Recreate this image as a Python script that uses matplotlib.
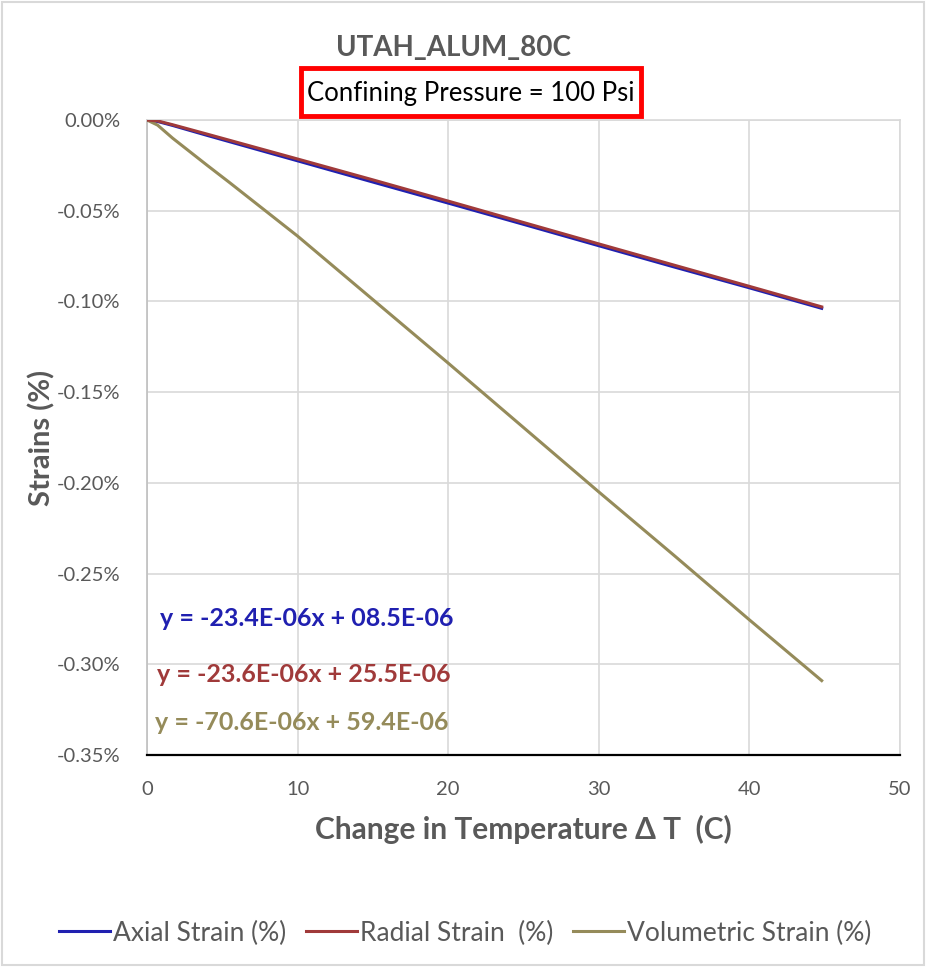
import numpy as np
import matplotlib.pyplot as plt
from matplotlib.patches import Rectangle
from matplotlib.ticker import FuncFormatter, MultipleLocator

plt.rcParams['font.family'] = ['Lato', 'DejaVu Sans']

# Temperature change (C) and measured strains (%)
axial_dt = [0, 0.7, 1.7, 4, 10, 15, 20, 25, 30, 35, 40, 44.8]
axial_strain = [0, -0.0008, -0.0030, -0.0085, -0.0225, -0.0342, -0.0458, -0.0575, -0.0693, -0.0810, -0.0925, -0.1038]

radial_dt = [0, 0.7, 1.7, 4, 10, 15, 20, 25, 30, 35, 40, 44.8]
radial_strain = [0, -0.0005, -0.0026, -0.0078, -0.0215, -0.0330, -0.0447, -0.0565, -0.0683, -0.0800, -0.0917, -0.1030]

vol_dt = [0, 0.7, 1.7, 4, 5.5, 10, 15, 20, 25, 30, 35, 40, 44.8]
vol_strain = [0, -0.0028, -0.0100, -0.0250, -0.0346, -0.0640, -0.0990, -0.1340, -0.1695, -0.2050, -0.2400, -0.2755, -0.3090]

series_names = ['Axial Strain (%)', 'Radial Strain  (%)', 'Volumetric Strain (%)']
fit_labels = ['y = -23.4E-06x + 08.5E-06',
              'y = -23.6E-06x + 25.5E-06',
              'y = -70.6E-06x + 59.4E-06']

blue = '#2020B0'
red = '#A03A3A'
olive = '#958B5A'
grey = '#595959'

fig = plt.figure(figsize=(9.26, 9.67), dpi=100)
ax = fig.add_axes([147 / 926, 1 - 755 / 967, (900 - 147) / 926, (755 - 120) / 967])

ax.plot(axial_dt, axial_strain, color=blue, lw=2.2, label=series_names[0], zorder=3)
ax.plot(radial_dt, radial_strain, color=red, lw=2.2, label=series_names[1], zorder=4)
ax.plot(vol_dt, vol_strain, color=olive, lw=2.2, label=series_names[2], zorder=3)

ax.set_xlim(0, 50)
ax.set_ylim(-0.35, 0)
ax.xaxis.set_major_locator(MultipleLocator(10))
ax.yaxis.set_major_locator(MultipleLocator(0.05))
ax.yaxis.set_major_formatter(FuncFormatter(lambda v, _: f'{v:.2f}%'))
ax.grid(True, color='#d9d9d9', lw=1.2, zorder=0)
ax.set_axisbelow(True)
ax.tick_params(length=0, labelsize=14.5, labelcolor=grey, pad=19)
ax.tick_params(axis='x', pad=19)

for side in ['top', 'right']:
    ax.spines[side].set_color('#d9d9d9')
    ax.spines[side].set_linewidth(1.2)
ax.spines['left'].set_color('#bfbfbf')
ax.spines['left'].set_linewidth(1.2)
ax.spines['bottom'].set_color('black')
ax.spines['bottom'].set_linewidth(1.6)

ax.set_xlabel('Change in Temperature Δ T  (C)', fontsize=21.5, fontweight='bold',
              color=grey)
ax.set_ylabel('Strains (%)', fontsize=21, fontweight='bold', color=grey)
ax.xaxis.set_label_coords(0.5, (755 - 829) / 635, transform=ax.transAxes)
ax.yaxis.set_label_coords((42 - 147) / 753, 0.5, transform=ax.transAxes)
ax.xaxis.label.set_va('center')
ax.yaxis.label.set_va('center')

# trendline equations
for (x, y), text, c in zip([(160, 619), (157, 675), (155, 723)], fit_labels, [blue, red, olive]):
    fig.text(x / 926, 1 - y / 967, text, fontsize=18, fontweight='bold', color=c,
             va='center', ha='left')

fig.text(453 / 926, 1 - 48 / 967, 'UTAH_ALUM_80C', fontsize=20, fontweight='bold',
         color=grey, ha='center', va='center')
fig.text(471 / 926, 1 - 93 / 967, 'Confining Pressure = 100 Psi', fontsize=18.5,
         color='black', ha='center', va='center')
fig.patches.append(Rectangle((301 / 926, 1 - 116 / 967), 340 / 926, 48 / 967,
                             transform=fig.transFigure, fill=False, edgecolor='#ff0000',
                             lw=3.5, zorder=5))

# chart border
fig.patches.append(Rectangle((0.002, 0.002), 0.996, 0.996, transform=fig.transFigure,
                             fill=False, edgecolor='#d9d9d9', lw=1.5))

leg = fig.legend(loc='center', bbox_to_anchor=(465 / 926, 1 - 933 / 967), ncol=3,
                 frameon=False, fontsize=19, handlelength=1.95, handletextpad=0.1,
                 columnspacing=0.75)
for t in leg.get_texts():
    t.set_color(grey)

fig.savefig('out.png', dpi=100)
